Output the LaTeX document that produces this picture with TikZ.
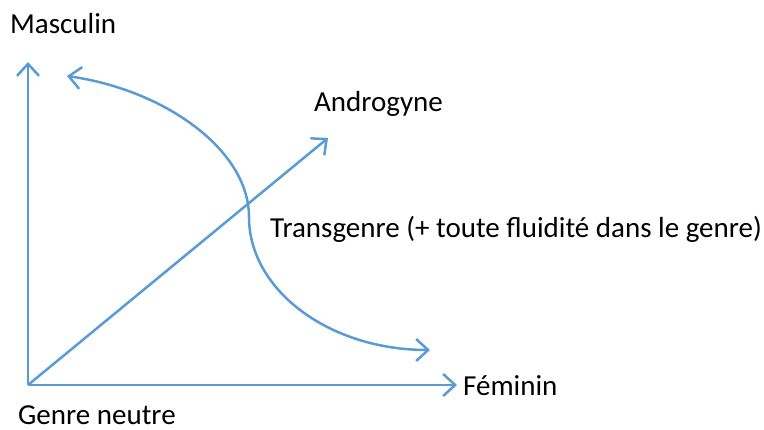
\documentclass[tikz,border=0pt]{standalone}
\usepackage{fontspec}
\setmainfont{Carlito}
\usepackage{tikz}
\usetikzlibrary{arrows.meta,positioning}

\begin{document}
\begin{tikzpicture}[
x=1pt,y=-1pt,
axis/.style={draw={rgb,255:red,91;green,155;blue,213},line width=2.5pt,-{Straight Barb[length=12pt,width=22pt,line width=2.5pt]}},
both/.style={draw={rgb,255:red,91;green,155;blue,213},line width=2.5pt,{Straight Barb[length=12pt,width=22pt,line width=2.5pt]}-{Straight Barb[length=12pt,width=22pt,line width=2.5pt]}},
label/.style={inner sep=0pt,font=\fontsize{29}{34}\selectfont,anchor=west}
]
\useasboundingbox (0,0) rectangle (764,430);
\coordinate (origin) at (28,385);
\coordinate (masc) at (28,62);
\coordinate (fem) at (457,385);
\coordinate (andro) at (328,138);
\coordinate (tstart) at (67,76);
\coordinate (tmid) at (249,217);
\coordinate (tend) at (430,350);
\node[label] (lmasc) at (10,24) {Masculin};
\node[label] (landro) at (314,104) {Androgyne};
\node[label] (ltrans) at (270,229) {Transgenre (+ toute fluidité dans le genre)};
\node[label] (lfem) at (463,386) {Féminin};
\node[label] (lneutre) at (18,415) {Genre neutre};
\draw[axis] (origin)--(masc);
\draw[axis] (origin)--(fem);
\draw[axis] (origin)--(andro);
\draw[both] (tstart) .. controls (165,90) and (249,150) .. (tmid)
  .. controls (249,290) and (329,350) .. (tend);
\end{tikzpicture}
\end{document}
